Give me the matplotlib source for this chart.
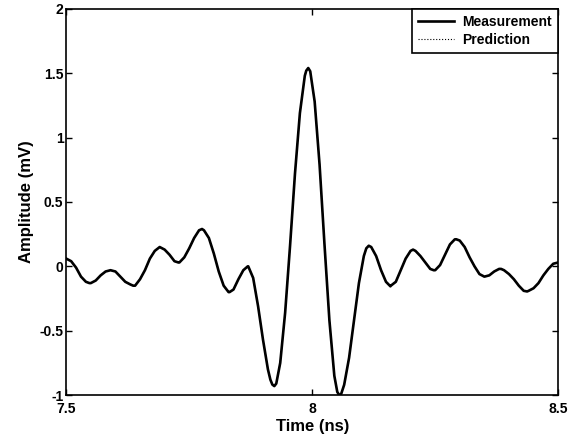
import matplotlib
matplotlib.use("Agg")
import matplotlib.pyplot as plt

# values (time in ns, amplitude in mV)
time_ns = [7.50, 7.51, 7.52, 7.53, 7.54, 7.547, 7.55, 7.56, 7.57, 7.58, 7.59,
           7.60, 7.61, 7.62, 7.63, 7.636, 7.64, 7.65, 7.66, 7.67, 7.68, 7.69,
           7.70, 7.71, 7.72, 7.728, 7.73, 7.74, 7.75, 7.76, 7.77, 7.776, 7.78,
           7.79, 7.80, 7.81, 7.82, 7.83, 7.832, 7.84, 7.85, 7.86, 7.869, 7.87,
           7.88, 7.89, 7.90, 7.91, 7.915, 7.919, 7.923, 7.927, 7.935, 7.945,
           7.955, 7.965, 7.975, 7.985, 7.988, 7.992, 7.996, 8.005, 8.015, 8.025,
           8.035, 8.045, 8.051, 8.055, 8.059, 8.065, 8.075, 8.085, 8.095, 8.105,
           8.11, 8.115, 8.12, 8.13, 8.14, 8.15, 8.159,
           8.16, 8.17, 8.18, 8.19, 8.20, 8.205, 8.21, 8.22, 8.23, 8.24, 8.247,
           8.25, 8.26, 8.27, 8.28, 8.29, 8.293, 8.30, 8.31, 8.32, 8.33, 8.34,
           8.35, 8.36, 8.37, 8.38, 8.384, 8.39, 8.40, 8.41, 8.42, 8.43, 8.437,
           8.44, 8.45, 8.46, 8.47, 8.48, 8.49, 8.50]
measurement = [0.06, 0.04, -0.01, -0.08, -0.12, -0.13, -0.13, -0.11, -0.07, -0.04, -0.03,
               -0.04, -0.08, -0.12, -0.14, -0.15, -0.15, -0.10, -0.03, 0.06, 0.12, 0.15,
               0.13, 0.09, 0.04, 0.03, 0.03, 0.07, 0.14, 0.22, 0.28, 0.29, 0.28,
               0.22, 0.10, -0.04, -0.15, -0.20, -0.20, -0.18, -0.10, -0.03, 0.00, 0.00,
               -0.09, -0.31, -0.57, -0.80, -0.88, -0.918, -0.93, -0.91, -0.75, -0.36,
               0.16, 0.72, 1.19, 1.48, 1.52, 1.54, 1.515, 1.28, 0.79, 0.17,
               -0.42, -0.85, -0.975, -1.00, -0.99, -0.92, -0.71, -0.42, -0.13, 0.08,
               0.14, 0.16, 0.15, 0.08, -0.03, -0.12, -0.155,
               -0.15, -0.12, -0.03, 0.06, 0.12, 0.13, 0.12, 0.08, 0.03, -0.02, -0.03,
               -0.03, 0.01, 0.09, 0.17, 0.21, 0.21, 0.20, 0.15, 0.07, 0.00, -0.06,
               -0.08, -0.07, -0.04, -0.02, -0.02, -0.03, -0.06, -0.10, -0.15, -0.19, -0.195,
               -0.19, -0.17, -0.13, -0.07, -0.02, 0.02, 0.03]
# prediction lies on top of the measurement in the original
prediction = list(measurement)

x_ticks = [7.5, 8, 8.5]
x_labels = ["7.5", "8", "8.5"]
y_ticks = [-1, -0.5, 0, 0.5, 1, 1.5, 2]
y_labels = ["-1", "-0.5", "0", "0.5", "1", "1.5", "2"]

plt.rcParams['font.family'] = ['Liberation Sans', 'DejaVu Sans']
plt.rcParams['font.weight'] = 'bold'

fig = plt.figure(figsize=(5.76, 4.40), dpi=100)
ax = fig.add_axes([0.115, 0.102, 0.854, 0.878])

ax.plot(time_ns, measurement, color='black', linewidth=1.9, label='Measurement')
ax.plot(time_ns, prediction, color='black', linewidth=0.8, linestyle=':', label='Prediction')

ax.set_xlim(7.5, 8.5)
ax.set_ylim(-1, 2)
ax.set_xticks(x_ticks)
ax.set_xticklabels(x_labels, fontsize=10, fontweight='bold')
ax.set_yticks(y_ticks)
ax.set_yticklabels(y_labels, fontsize=10, fontweight='bold')
ax.tick_params(direction='in', top=True, right=True, length=4, width=1)
ax.tick_params(axis='x', pad=5)
ax.tick_params(axis='y', pad=2)
for s in ax.spines.values():
    s.set_linewidth(1.2)

ax.set_xlabel('Time (ns)', fontsize=12, fontweight='bold', labelpad=2)
ax.set_ylabel('Amplitude (mV)', fontsize=12, fontweight='bold', labelpad=4)

leg = ax.legend(loc='upper right', fontsize=10, frameon=True, fancybox=False,
                borderaxespad=0.0, handlelength=2.6, borderpad=0.45,
                labelspacing=0.25, handletextpad=0.6)
leg.get_frame().set_edgecolor('black')
leg.get_frame().set_linewidth(1.2)
leg.get_frame().set_alpha(1)
for t in leg.get_texts():
    t.set_fontweight('bold')

fig.savefig('out.png', dpi=100)
